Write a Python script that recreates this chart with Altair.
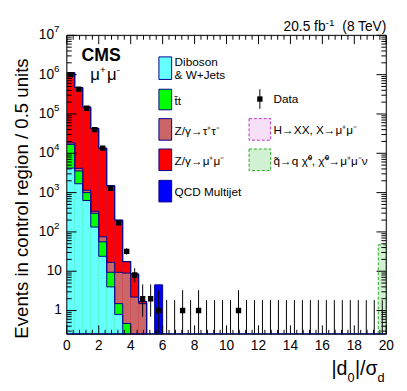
import altair as alt
import pandas as pd

W, H = 326, 305
YMIN, YMAX = 0.25, 1e7
FLOOR = 0.01
FONT = "Liberation Sans"
NAVY = "#00008B"

# ---- histogram data (bins of 0.5 in |d0|/sigma_d from 0 to 20) ----
edges = [0.5 * i for i in range(41)]
bin_lo = edges[:-1]
bin_hi = edges[1:]

diboson = [4200, 1680, 630, 133, 24, 4.0, 0.8, 0.1] + [0] * 32
ttbar = [12600, 1870, 370, 165, 32, 5.4, 0.7, 0.37] + [0] * 32
ztautau = [1500, 600, 150, 37, 19, 7.4, 7.9, 8.5, 2.2, 1.5] + [0] * 30
zmumu = [1.10e6, 4.66e5, 1.49e5, 4.27e4, 1.34e4, 1480, 190, 8.6, 6.3, 0.2] + [0] * 30
qcd = [0] * 11 + [4.5] + [0] * 28
sig_h = [0] * 40
sig_sq = [0] * 39 + [47]

data_counts = [1.0e6, 4.3e5, 1.4e5, 4.0e4, 1.35e4, 1280, 170, 32, 8, 2, 2, 1,
               0, 0, 1, 0, 1, 0, 0, 0, 0, 1, 0, 0, 0, 0, 0, 0, 0, 0,
               0, 0, 0, 0, 0, 0, 0, 0, 0, 0]
err_lo = [1000, 660, 370, 200, 116, 36, 13, 5.6, 2.8, 1.3, 1.3, 0.83,
          0, 0, 0.83, 0, 0.83, 0, 0, 0, 0, 0.83, 0, 0, 0, 0, 0, 0, 0, 0,
          0, 0, 0, 0, 0, 0, 0, 0, 0, 0]
err_hi = [1000, 660, 370, 200, 116, 36, 14, 6.7, 3.96, 2.64, 2.64, 2.3,
          1.84, 1.84, 2.3, 1.84, 2.3, 1.84, 1.84, 1.84, 1.84, 2.3, 1.84, 1.84, 1.84, 1.84, 1.84, 1.84, 1.84, 1.84,
          1.84, 1.84, 1.84, 1.84, 1.84, 1.84, 1.84, 1.84, 1.84, 1.84]

comp_names = ["Diboson", "ttbar", "Ztautau", "Zmumu", "QCD"]
comp_vals = [diboson, ttbar, ztautau, zmumu, qcd]
comp_colors = ["#66FFFF", "#00FF00", "#CC6666", "#FF0000", "#0000FF"]

xs = alt.Scale(domain=[0, 20], nice=False, zero=False)
ys = alt.Scale(type="log", domain=[YMIN, YMAX], nice=False)

# cumulative stack
cum = []
run = [0.0] * 40
for vals in comp_vals:
    run = [a + b for a, b in zip(run, vals)]
    cum.append(list(run))

rect_rows = []
for k in reversed(range(len(comp_names))):
    for i in range(40):
        if cum[k][i] > 0:
            rect_rows.append({"comp": comp_names[k], "order": len(comp_names) - k,
                              "lo": bin_lo[i], "hi": bin_hi[i], "top": cum[k][i], "base": FLOOR})
rect_df = pd.DataFrame(rect_rows)

line_rows = []
for k in range(len(comp_names)):
    for i in range(40):
        line_rows.append({"comp": comp_names[k], "x": bin_lo[i], "y": max(cum[k][i], FLOOR)})
    line_rows.append({"comp": comp_names[k], "x": 20.0, "y": FLOOR})
line_df = pd.DataFrame(line_rows)

color_scale = alt.Scale(domain=comp_names, range=comp_colors)

stack = alt.Chart(rect_df).mark_rect(clip=True, strokeWidth=0).encode(
    x=alt.X("lo:Q", scale=xs, axis=None),
    x2="hi:Q",
    y=alt.Y("top:Q", scale=ys, axis=None),
    y2="base:Q",
    color=alt.Color("comp:N", scale=color_scale, legend=None),
    order=alt.Order("order:Q"),
)

outlines = alt.Chart(line_df).mark_line(interpolate="step-after", clip=True, color=NAVY, strokeWidth=1).encode(
    x=alt.X("x:Q", scale=xs, axis=None),
    y=alt.Y("y:Q", scale=ys, axis=None),
    detail="comp:N",
)

sig_df = pd.DataFrame({"lo": bin_lo, "hi": bin_hi, "sq": sig_sq, "h": sig_h, "base": [FLOOR] * 40})
sig_sq_layer = alt.Chart(sig_df).transform_filter("datum.sq > 0").mark_rect(
    clip=True, fill="#7FD87F", fillOpacity=0.35, stroke="#22AA22", strokeDash=[3, 2], strokeWidth=1).encode(
    x=alt.X("lo:Q", scale=xs, axis=None), x2="hi:Q",
    y=alt.Y("sq:Q", scale=ys, axis=None), y2="base:Q")

centers = [(a + b) / 2 for a, b in zip(bin_lo, bin_hi)]
data_df = pd.DataFrame({"x": centers, "n": data_counts,
                        "lo": [max(n - e, FLOOR) for n, e in zip(data_counts, err_lo)],
                        "hi": [n + e for n, e in zip(data_counts, err_hi)]})
err_layer = alt.Chart(data_df).mark_rule(clip=True, color="black", strokeWidth=1).encode(
    x=alt.X("x:Q", scale=xs, axis=None),
    y=alt.Y("lo:Q", scale=ys, axis=None), y2="hi:Q")
pts_layer = alt.Chart(data_df).transform_filter("datum.n > 0").mark_square(
    size=30, color="black", opacity=1, clip=True).encode(
    x=alt.X("x:Q", scale=xs, axis=None),
    y=alt.Y("n:Q", scale=ys, axis=None))

one = pd.DataFrame({"a": [0]})


def txt(s, x, y, size=12, weight="normal", align="left", baseline="middle", font=FONT):
    return alt.Chart(one).mark_text(text=s, fontSize=size, fontWeight=weight, align=align,
                                    baseline=baseline, color="black", font=font).encode(
        x=alt.value(x), y=alt.value(y))


def box(x0, x1, y0, y1, fill, stroke=NAVY, dash=None, fop=1.0):
    kw = dict(fill=fill, stroke=stroke, strokeWidth=1, fillOpacity=fop)
    if dash:
        kw["strokeDash"] = dash
    return alt.Chart(one).mark_rect(**kw).encode(
        x=alt.value(x0), x2=alt.value(x1), y=alt.value(y0), y2=alt.value(y1))


# ---- ticks (inward, ROOT style) ----
x_major = [2 * i for i in range(11)]
x_minor = [round(0.4 * i, 2) for i in range(51) if round(0.4 * i, 2) not in x_major]
y_major = [10 ** k for k in range(0, 8)]
y_minor = [m * 10 ** k for k in range(-1, 7) for m in range(2, 10) if YMIN <= m * 10 ** k <= YMAX]


def xticks(vals, length):
    d = pd.DataFrame({"v": vals})
    b = alt.Chart(d).mark_rule(color="black", strokeWidth=1).encode(
        x=alt.X("v:Q", scale=xs, axis=None), y=alt.value(H), y2=alt.value(H - length))
    t = alt.Chart(d).mark_rule(color="black", strokeWidth=1).encode(
        x=alt.X("v:Q", scale=xs, axis=None), y=alt.value(0), y2=alt.value(length))
    return [b, t]


def yticks(vals, length):
    d = pd.DataFrame({"v": vals})
    l = alt.Chart(d).mark_rule(color="black", strokeWidth=1).encode(
        y=alt.Y("v:Q", scale=ys, axis=None), x=alt.value(0), x2=alt.value(length))
    r = alt.Chart(d).mark_rule(color="black", strokeWidth=1).encode(
        y=alt.Y("v:Q", scale=ys, axis=None), x=alt.value(W), x2=alt.value(W - length))
    return [l, r]


# ---- axis labels ----
xlab_df = pd.DataFrame({"v": x_major, "t": [str(v) for v in x_major]})
xlabels = alt.Chart(xlab_df).mark_text(font=FONT, fontSize=14, baseline="middle", align="center").encode(
    x=alt.X("v:Q", scale=xs, axis=None), y=alt.value(H + 12), text="t:N")

ylab_vals = [1, 10, 1e2, 1e3, 1e4, 1e5, 1e6, 1e7]
ylab_base = ["1", "10", "10", "10", "10", "10", "10", "10"]
ylab_exp = ["", "", "2", "3", "4", "5", "6", "7"]
yl_df = pd.DataFrame({"v": ylab_vals, "b": ylab_base, "e": ylab_exp})
ylab_plain = alt.Chart(yl_df).transform_filter("datum.e == ''").mark_text(
    font=FONT, fontSize=14, align="right", baseline="middle").encode(
    y=alt.Y("v:Q", scale=ys, axis=None), x=alt.value(-5), text="b:N")
ylab_base_l = alt.Chart(yl_df).transform_filter("datum.e != ''").mark_text(
    font=FONT, fontSize=14, align="right", baseline="middle").encode(
    y=alt.Y("v:Q", scale=ys, axis=None), x=alt.value(-13), text="b:N")
ylab_exp_l = alt.Chart(yl_df).transform_filter("datum.e != ''").mark_text(
    font=FONT, fontSize=10, align="left", baseline="middle", dy=-6).encode(
    y=alt.Y("v:Q", scale=ys, axis=None), x=alt.value(-13), text="e:N")

ytitle = alt.Chart(one).mark_text(text="Events in control region / 0.5 units", font=FONT, fontSize=19,
                                  angle=270, align="center", baseline="middle").encode(
    x=alt.value(-46), y=alt.value(H / 2 + 14))

annot = [
    txt("CMS", 15, 26, size=18, weight="bold", baseline="alphabetic"),
    txt("\u03bc", 24, 46, size=17, baseline="alphabetic"),
    txt("+", 34, 38, size=10, baseline="alphabetic"),
    txt("\u03bc", 41, 46, size=17, baseline="alphabetic"),
    txt("-", 51, 38, size=10, baseline="alphabetic"),
    txt("(8 TeV)", W, -4, size=14, align="right", baseline="alphabetic"),
    txt("-1", 273, -10, size=10, align="right", baseline="alphabetic"),
    txt("20.5 fb", 264, -4, size=14, align="right", baseline="alphabetic"),
    # x title |d0|/sigma_d
    txt("|d", 270, 347, size=20, baseline="alphabetic"),
    txt("0", 286.5, 354, size=13, baseline="alphabetic"),
    txt("|/\u03c3", 294, 347, size=20, baseline="alphabetic"),
    txt("d", 317, 354, size=13, baseline="alphabetic"),
]

# ---- legend ----
leg = [
    box(94, 107, 22, 45, "#66FFFF"),
    txt("Diboson", 110, 27.5),
    txt("& W+Jets", 110, 41),
    box(94, 107, 55, 76, "#00FF00"),
    txt("t\u0304t", 110, 67.5),
    box(94, 107, 85, 107, "#CC6666"),
    txt("Z/\u03b3\u2192\u03c4\u207a\u03c4\u207b", 110, 97.5),
    box(94, 107, 116, 138, "#FF0000"),
    txt("Z/\u03b3\u2192\u03bc\u207a\u03bc\u207b", 110, 128.5),
    box(94, 107, 148, 170, "#0000FF"),
    txt("QCD Multijet", 110, 159.5),
    alt.Chart(one).mark_rule(color="black", strokeWidth=1).encode(
        x=alt.value(197), y=alt.value(55), y2=alt.value(75)),
    alt.Chart(one).mark_square(size=30, color="black", opacity=1).encode(
        x=alt.value(197), y=alt.value(65)),
    txt("Data", 211, 65.5),
    box(186, 208, 85, 107, "#E9A6E9", stroke="#BB33BB", dash=[3, 2], fop=0.35),
    txt("H\u2192XX, X\u2192\u03bc\u207a\u03bc\u207b", 211, 97),
    box(186, 208, 116, 138, "#7FD87F", stroke="#22AA22", dash=[3, 2], fop=0.35),
    txt("q\u0303\u2192q \u03c7\u0303\u2070, \u03c7\u0303\u2070\u2192\u03bc\u207a\u03bc\u207b\u03bd", 211, 128),
]

bottom_line = alt.Chart(one).mark_rule(color=NAVY, strokeWidth=1).encode(
    x=alt.value(0), x2=alt.value(W), y=alt.value(H - 0.5))
frame = alt.Chart(one).mark_rect(fill=None, fillOpacity=0, stroke="black", strokeWidth=1).encode(
    x=alt.value(0), x2=alt.value(W), y=alt.value(0), y2=alt.value(H))

layers = [stack, outlines, sig_sq_layer, err_layer, pts_layer, frame, bottom_line]
layers += xticks(x_major, 9) + xticks(x_minor, 4.5) + yticks(y_major, 10) + yticks(y_minor, 5)
layers += [xlabels, ylab_plain, ylab_base_l, ylab_exp_l, ytitle] + annot + leg

chart = alt.layer(*layers).properties(
    width=W, height=H,
    padding={"left": 60, "top": 24, "right": 13, "bottom": 52},
    autosize=alt.AutoSizeParams(type="none"),
).configure_view(stroke=None).configure(background="white")

chart.save("out.html", embed_options={"renderer": "svg", "actions": False})
